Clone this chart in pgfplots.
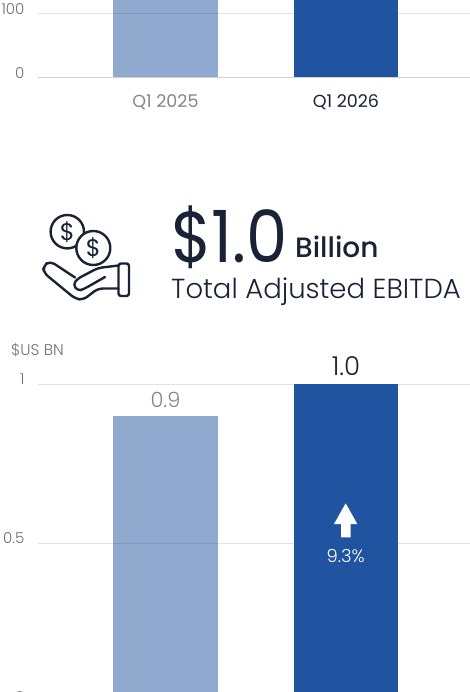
\documentclass[border=0pt]{standalone}
\usepackage{pgfplots}
\pgfplotsset{compat=1.18}
\usepackage{fontspec}
\setmainfont{Poppins}[UprightFont=* Light,BoldFont=* Medium]
\newfontfamily\regfont{Poppins}
\definecolor{darkbar}{HTML}{2053A0}
\definecolor{ink}{HTML}{1A2236}
\definecolor{tickgray}{HTML}{707074}
\definecolor{mutegray}{HTML}{85868D}
\definecolor{gridc}{HTML}{E2E2E5}
\definecolor{basec}{HTML}{D0D0D5}
\newcommand{\fs}[1]{\fontsize{#1}{#1}\selectfont}
\pgfplotsset{
  quarter/.style={
    scale only axis,width=432pt,
    anchor=south west,
    xmin=-0.706,xmax=1.687,
    axis y line=left,axis x line=bottom,
    axis line style={draw=none},
    ymajorgrids,
    grid style={gridc,line width=1pt},
    major tick length=0pt,
    tick style={draw=none},
    /pgf/number format/assume math mode=true,
    tick label style={font=\fs{15},text=tickgray},
    yticklabel style={anchor=east,xshift=-10pt,yshift=4.5pt},
  }
}
\begin{document}
\begin{tikzpicture}[x=1pt,y=1pt]
\path[use as bounding box,clip] (0,0) rectangle (470,-692);
% top chart, cut off by the page
\begin{axis}[quarter,at={(38pt,-77.5pt)},height=77.5pt,
  ymin=0,ymax=121.1,ytick={0,100},
  xtick={0,1},
  xticklabels={\textcolor{mutegray}{Q1 2025},\textcolor{ink}{Q1 2026}},
  xticklabel style={font=\regfont\fs{17.5},yshift=-14pt}]
\addplot[ybar,bar width=105pt,bar shift=0pt,draw=none,fill=darkbar,fill opacity=0.5] coordinates {(0,130)};
\addplot[ybar,bar width=104pt,bar shift=0pt,draw=none,fill=darkbar] coordinates {(1,140)};
\end{axis}
\draw[basec,line width=1pt] (38,-77.5) -- (470,-77.5);
% bottom chart
\begin{axis}[quarter,at={(38pt,-702pt)},height=318pt,
  ymin=0,ymax=1,ytick={0,0.5,1},
  xtick=\empty]
\addplot[ybar,bar width=105pt,bar shift=0pt,draw=none,fill=darkbar,fill opacity=0.5,
  nodes near coords,
  every node near coord/.append style={font=\fs{21},text=mutegray,text opacity=1,yshift=5pt}]
  coordinates {(0,0.9)};
\addplot[ybar,bar width=104pt,bar shift=0pt,draw=none,fill=darkbar,
  nodes near coords,/pgf/number format/fixed zerofill,/pgf/number format/precision=1,
  every node near coord/.append style={font=\fs{26},text=ink,yshift=5pt}]
  coordinates {(1,1.0)};
\end{axis}
\node[anchor=west,text=tickgray,font=\fs{15.5},inner sep=0pt] at (11,-350) {\$US BN};
% arrow and change inside the dark bar
\fill[white] (345.7,-503.3) -- (357.3,-524) -- (350.7,-524) -- (350.7,-537.3)
  -- (341,-537.3) -- (341,-524) -- (334,-524) -- cycle;
\node[text=white,font=\fs{18},inner sep=0pt] at (345.7,-556) {9.3\%};
% headline
\node[anchor=base west,text=ink,font=\regfont\fs{72},inner sep=0pt,xscale=0.91] at (171,-262) {\$1.0};
\node[anchor=base west,text=ink,font=\bfseries\fs{28},inner sep=0pt] at (295,-258) {Billion};
\node[anchor=base west,text=ink,font=\fs{27.5},inner sep=0pt] at (171,-298) {Total Adjusted EBITDA};
% coins and hand icon
\begin{scope}[draw=ink,line width=2.4pt,line join=round,line cap=round]
\draw (67.3,-231.7) circle (16.7);
\draw[fill=white] (93.3,-248) circle (17);
\node[text=ink,font=\regfont\fs{24},inner sep=0pt] at (67.3,-231.7) {\$};
\node[text=ink,font=\regfont\fs{24},inner sep=0pt] at (93.3,-248) {\$};
\draw[rounded corners=4pt] (118.5,-265.5) -- (98,-268) -- (77,-279) -- (73,-285)
  -- (78,-291) -- (84,-289) -- (105,-277);
\draw[rounded corners=5pt] (118.5,-288.5) -- (98,-288.5) -- (83,-300) -- (75,-298.5)
  -- (44,-273) -- (43,-266) -- (50,-261) -- (75,-277.5);
\draw[rounded corners=2.5pt] (118.5,-263.5) rectangle (129,-296);
\end{scope}
\end{tikzpicture}
\end{document}
